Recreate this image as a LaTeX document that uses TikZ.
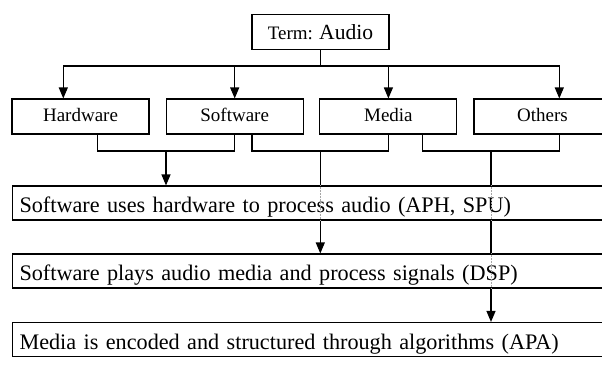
\documentclass[tikz,border=0pt]{standalone}
\usepackage{fontspec}
\setmainfont{Liberation Serif}
\usetikzlibrary{arrows.meta}
\begin{document}
\begin{tikzpicture}[x=1pt,y=-1pt,
  line width=1.1pt,
  arr/.style={-{Triangle[length=11pt,width=9pt]}},
  catbox/.style={draw, fill=white, minimum width=137pt, minimum height=35pt, inner ysep=0pt,
    text height=10.4pt, text depth=0pt, font=\fontsize{19}{22}\selectfont},
  widebox/.style={draw, fill=white, anchor=west, minimum height=34pt, inner ysep=0pt,
    inner xsep=7pt, text width=640pt, align=left, text height=19pt, text depth=0pt,
    font=\fontsize{22.2}{26}\selectfont},
  faint/.style={line width=0.5pt, densely dotted, black!35}]
\useasboundingbox (0,0) rectangle (602,369);
\clip (0,0) rectangle (602,369);

\node[catbox, text height=16.6pt] (term) at (320.5,31.7) {Term: {\fontsize{21.6}{24}\selectfont Audio}};

\node[catbox] (hw) at (80.5,116.5) {Hardware};
\node[catbox] (sw) at (234.7,116.5) {Software};
\node[catbox] (md) at (388.4,116.5) {Media};
\node[catbox] (ot) at (542.5,116.5) {Others};

\node[widebox] (l1) at (12,203) {Software uses hardware to process audio (APH, SPU)};
\node[widebox] (l2) at (12,271) {Software plays audio media and process signals (DSP)};
\node[widebox] (l3) at (12,339.5) {Media is encoded and structured through algorithms (APA)};

% top distribution
\coordinate (j) at (320.5,66);
\draw (term.south) -- (j);
\draw[arr] (j) -| ([xshift=-17.2pt]hw.north);
\draw[arr] (j) -| (sw.north);
\draw[arr] (j) -| (md.north);
\draw[arr] (j) -| ([xshift=16.8pt]ot.north);

% brackets
\coordinate (b1) at (166,151);
\coordinate (b2) at (320.3,151);
\coordinate (b3) at (491,151);
\draw ([xshift=17.2pt]hw.south) |- (b1) -| (sw.south);
\draw ([xshift=17.3pt]sw.south) |- (b2) -| (md.south);
\draw ([xshift=34.2pt]md.south) |- (b3) -| ([xshift=16.8pt]ot.south);

\draw[arr] (b1) -- (b1 |- l1.north);

\draw (b2) -- (b2 |- l1.north);
\draw[arr] (b2 |- l1.south) -- (b2 |- l2.north);
\draw[faint] (b2 |- l1.north) -- (b2 |- l1.south);

\draw (b3) -- (b3 |- l1.north);
\draw (b3 |- l1.south) -- (b3 |- l2.north);
\draw[arr] (b3 |- l2.south) -- (b3 |- l3.north);
\draw[faint] (b3 |- l1.north) -- (b3 |- l1.south);
\draw[faint] (b3 |- l2.north) -- (b3 |- l2.south);
\end{tikzpicture}
\end{document}
